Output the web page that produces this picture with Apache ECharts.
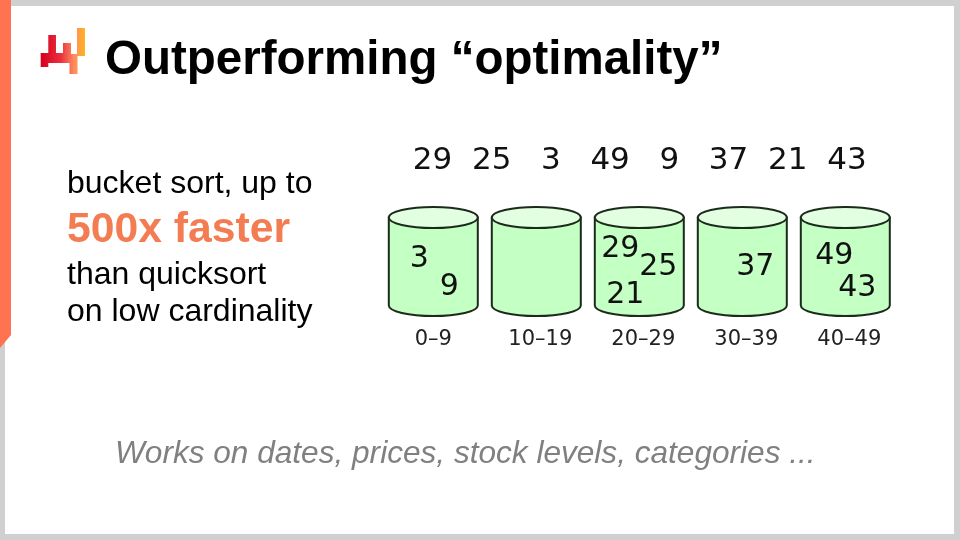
<!DOCTYPE html>
<html>
<head>
<meta charset="utf-8">
<title>Outperforming optimality</title>
<script src="https://cdn.jsdelivr.net/npm/echarts@6/dist/echarts.min.js"></script>
<style>
html,body{margin:0;padding:0;background:#d0d0d0;overflow:hidden}
#main{width:960px;height:540px}
</style>
</head>
<body>
<div id="main"></div>
<script>
// values
var inputValues = [29, 25, 3, 49, 9, 37, 21, 43];
var bucketLabels = ['0–9', '10–19', '20–29', '30–39', '40–49'];
var bucketValues = [[3, 9], [], [29, 25, 21], [37], [49, 43]];
// where each number sits inside its bucket, px from the bucket centre
var bucketSpots = [[[-14, -5], [16, 23]], [], [[-19, -15], [19, 3], [-14, 31]], [[13, 3]], [[-11, -8], [12, 24]]];

var sans = '"Liberation Sans", Arial, sans-serif';
var dejavu = '"DejaVu Sans", sans-serif';

var inputData = inputValues.map(function (v, i) { return [i, 0, v]; });
var bucketData = bucketLabels.map(function (l, i) { return [i, 0, 1]; });
var itemData = [];
bucketValues.forEach(function (list, b) {
	list.forEach(function (v, k) {
		itemData.push([b, v, bucketSpots[b][k][0], bucketSpots[b][k][1]]);
	});
});

// cylinder, drawn from the axis band
function renderBucket(params, api) {
	var bottom = api.coord([api.value(0), api.value(1)]);
	var top = api.coord([api.value(0), api.value(2)]);
	var cx = bottom[0];
	var rx = 44.5, ry = 10.5;
	var y0 = top[1] + ry, y1 = bottom[1] - ry;
	var body = 'M' + (cx - rx) + ' ' + y0 +
		'L' + (cx - rx) + ' ' + y1 +
		'A' + rx + ' ' + ry + ' 0 0 0 ' + (cx + rx) + ' ' + y1 +
		'L' + (cx + rx) + ' ' + y0 + 'Z';
	return {
		type: 'group',
		children: [
			{ type: 'path', shape: { pathData: body }, style: { fill: '#c4ffc4', stroke: '#1c2a1c', lineWidth: 2 } },
			{ type: 'ellipse', shape: { cx: cx, cy: y0, rx: rx, ry: ry }, style: { fill: '#e2ffe2', stroke: '#1c2a1c', lineWidth: 2 } }
		]
	};
}

function renderItem(params, api) {
	var c = api.coord([api.value(0), 0.5]);
	return {
		type: 'text',
		style: {
			x: c[0] + api.value(2),
			y: c[1] + api.value(3) + 3,
			text: String(api.value(1)),
			fill: '#111',
			font: '30px ' + dejavu,
			align: 'center',
			verticalAlign: 'middle'
		}
	};
}

function renderInput(params, api) {
	var c = api.coord([api.value(0), 0]);
	return {
		type: 'text',
		style: {
			x: c[0],
			y: c[1],
			text: String(api.value(2)),
			fill: '#111',
			font: '31px ' + dejavu,
			align: 'center',
			verticalAlign: 'middle'
		}
	};
}

var rich = {
	a: { fontFamily: dejavu, fontSize: 21, color: '#222' },
	b: { fontFamily: dejavu, fontSize: 21, color: '#222', padding: [0, 0, 0, 8] }
};

var option = {
	animation: false,
	backgroundColor: '#d0d0d0',
	grid: [
		{ left: 381.8, width: 515, top: 207, height: 109 },
		{ left: 402.9, width: 473.6, top: 151, height: 20 }
	],
	xAxis: [
		{
			type: 'category', gridIndex: 0, data: bucketLabels,
			axisLine: { show: false }, axisTick: { show: false },
			axisLabel: {
				margin: 13,
				interval: 0,
				formatter: function (v, i) { return (i === 0 ? '{a|' : '{b|') + v + '}'; },
				rich: rich
			}
		},
		{
			type: 'category', gridIndex: 1, data: inputValues.map(String), show: false
		}
	],
	yAxis: [
		{ type: 'value', gridIndex: 0, min: 0, max: 1, show: false },
		{ type: 'value', gridIndex: 1, min: -1, max: 1, show: false }
	],
	series: [
		{
			type: 'custom', xAxisIndex: 0, yAxisIndex: 0, data: bucketData, z: 2,
			encode: { x: 0, y: [1, 2] }, renderItem: renderBucket, silent: true
		},
		{
			type: 'custom', xAxisIndex: 0, yAxisIndex: 0, data: itemData, z: 3,
			encode: { x: 0 }, renderItem: renderItem, silent: true
		},
		{
			type: 'custom', xAxisIndex: 1, yAxisIndex: 1, data: inputData, z: 3,
			encode: { x: 0, y: 1 }, renderItem: renderInput, silent: true
		}
	],
	graphic: [
		// slide sheet
		{ type: 'rect', z: -10, shape: { x: 5, y: 6, width: 949, height: 528 }, style: { fill: '#fff' } },
		{ type: 'polygon', z: -9, shape: { points: [[0, 0], [11, 0], [11, 335], [0, 348]] }, style: { fill: '#ff7350' } },
		// logo
		{
			type: 'polygon', z: 1,
			shape: { points: [[40.7, 53], [48.3, 53], [48.3, 35], [56, 35], [56, 53], [63, 53], [63, 43], [71, 43], [71, 54], [77, 54], [77, 28], [85, 28], [85, 56], [77.5, 56], [77.5, 74], [69.5, 74], [69.5, 63], [48.3, 63], [48.3, 67], [40.7, 67]] },
			style: {
				fill: new echarts.graphic.LinearGradient(0, 0, 1, 0, [
					{ offset: 0, color: '#d4001f' },
					{ offset: 0.45, color: '#ea2f3c' },
					{ offset: 0.75, color: '#ff8a62' },
					{ offset: 1, color: '#ffb420' }
				])
			}
		},
		{ type: 'text', z: 5, style: { x: 105, y: 61, text: 'Outperforming “optimality”', fill: '#000', font: 'bold 47.5px ' + sans, verticalAlign: 'middle' } },
		{ type: 'text', z: 5, style: { x: 67, y: 184, text: 'bucket sort, up to', fill: '#000', font: '32px ' + sans, verticalAlign: 'middle' } },
		{ type: 'text', z: 5, style: { x: 67, y: 230, text: '500x faster', fill: '#f47c52', font: 'bold 42.7px ' + sans, verticalAlign: 'middle' } },
		{ type: 'text', z: 5, style: { x: 67, y: 275, text: 'than quicksort', fill: '#000', font: '32px ' + sans, verticalAlign: 'middle' } },
		{ type: 'text', z: 5, style: { x: 67, y: 312, text: 'on low cardinality', fill: '#000', font: '32px ' + sans, verticalAlign: 'middle' } },
		{ type: 'text', z: 5, style: { x: 115, y: 454, text: 'Works on dates, prices, stock levels, categories ...', fill: '#808080', font: 'italic 31.6px ' + sans, verticalAlign: 'middle' } }
	]
};

var chart = echarts.init(document.getElementById('main'));
chart.setOption(option);
</script>
</body>
</html>
